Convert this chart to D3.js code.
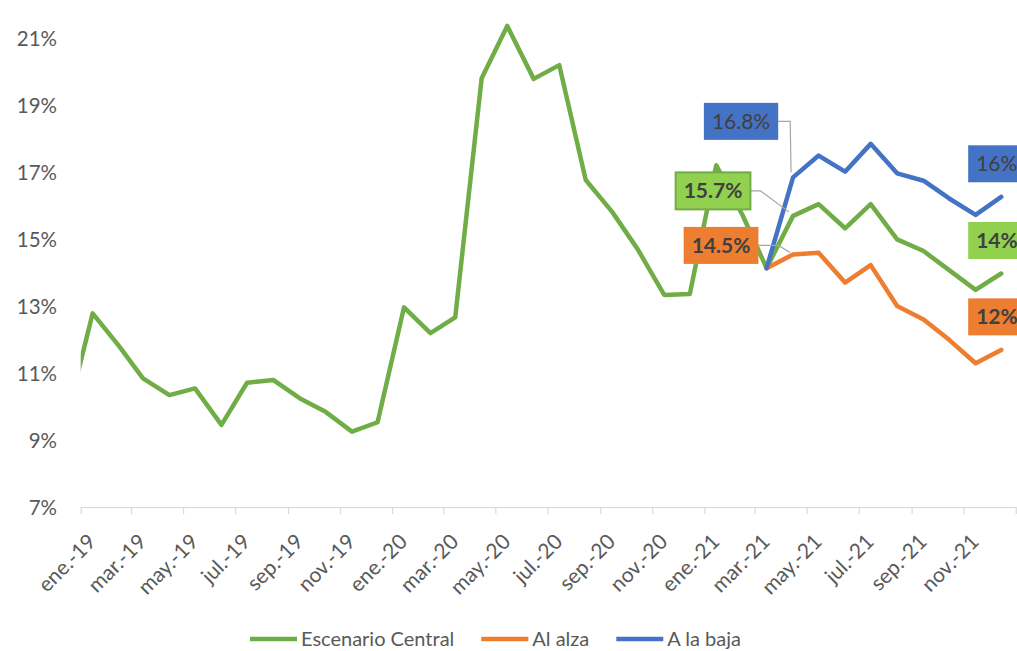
<!DOCTYPE html>
<html><head><meta charset="utf-8">
<script src="https://cdn.jsdelivr.net/npm/d3@7"></script>
<style>
body{margin:0;background:#fff}
svg{display:block}
text{font-family:Lato,"Open Sans",sans-serif}
</style>
</head><body>
<svg id="c" width="1017" height="651"></svg>
<script>
// ---- data ----
const months = ["2018-12",
  "2019-01","2019-02","2019-03","2019-04","2019-05","2019-06","2019-07","2019-08","2019-09","2019-10","2019-11","2019-12",
  "2020-01","2020-02","2020-03","2020-04","2020-05","2020-06","2020-07","2020-08","2020-09","2020-10","2020-11","2020-12",
  "2021-01","2021-02","2021-03","2021-04","2021-05","2021-06","2021-07","2021-08","2021-09","2021-10","2021-11","2021-12"];
const central = [9.6,
  12.78,11.8,10.84,10.34,10.54,9.45,10.71,10.79,10.24,9.84,9.25,9.53,
  12.96,12.19,12.66,19.80,21.36,19.78,20.19,16.76,15.81,14.69,13.33,13.36,
  17.2,15.7,14.13,15.69,16.04,15.32,16.04,14.99,14.64,14.07,13.48,13.97];
const scenMonths = ["2021-03","2021-04","2021-05","2021-06","2021-07","2021-08","2021-09","2021-10","2021-11","2021-12"];
const alza = [14.13,14.54,14.59,13.70,14.22,13.00,12.60,11.99,11.29,11.69];
const baja = [14.13,16.84,17.49,17.01,17.84,16.96,16.74,16.21,15.72,16.26];
const yTicks = [7,9,11,13,15,17,19,21];
const xTickMonths = ["2019-01","2019-03","2019-05","2019-07","2019-09","2019-11",
  "2020-01","2020-03","2020-05","2020-07","2020-09","2020-11",
  "2021-01","2021-03","2021-05","2021-07","2021-09","2021-11","2022-01"];
const xTickLabels = ["ene.-19","mar.-19","may.-19","jul.-19","sep.-19","nov.-19",
  "ene.-20","mar.-20","may.-20","jul.-20","sep.-20","nov.-20",
  "ene.-21","mar.-21","may.-21","jul.-21","sep.-21","nov.-21",""];
const seriesNames = ["Escenario Central","Al alza","A la baja"];
const colors = ["#70AD47","#ED7D31","#4472C4"];

// ---- helpers ----
const parseM = s => { const [y,m]=s.split("-").map(Number); return new Date(y,m-1,1); };
const midM = s => { const [y,m]=s.split("-").map(Number); return new Date(y,m-1,15); };

const svg = d3.select("#c");
const x = d3.scaleTime().domain([new Date(2019,0,1), new Date(2022,0,1)]).range([80.7,1015.7]);
const y = d3.scaleLinear().domain([7,21]).range([507,38]);

const series = [
  {name:seriesNames[0], color:colors[0], pts: months.map((m,i)=>({m, d:midM(m), v:central[i]}))},
  {name:seriesNames[1], color:colors[1], pts: scenMonths.map((m,i)=>({m, d:midM(m), v:alza[i]}))},
  {name:seriesNames[2], color:colors[2], pts: scenMonths.map((m,i)=>({m, d:midM(m), v:baja[i]}))}
];

// y axis labels
const yAxis = d3.axisLeft(y).tickValues(yTicks).tickFormat(d=>d+"%").tickSize(0).tickPadding(0);
const gy = svg.append("g").attr("transform","translate(57,0)").call(yAxis);
gy.select(".domain").remove();
gy.selectAll("text").attr("font-family","Lato").attr("font-size",20.5).attr("fill","#595959").attr("x",0).attr("dy","0.35em");

// x axis
const xAxis = d3.axisBottom(x).tickValues(xTickMonths.map(parseM))
  .tickFormat((d,i)=>xTickLabels[i]).tickSizeInner(7).tickSizeOuter(0);
const gx = svg.append("g").attr("transform","translate(0,507)").call(xAxis);
gx.select(".domain").attr("stroke","#D9D9D9").attr("stroke-width",1.2);
gx.selectAll(".tick line").attr("stroke","#D9D9D9").attr("stroke-width",1.2);
gx.selectAll(".tick text")
  .attr("font-family","Lato").attr("font-size",21).attr("fill","#595959")
  .attr("x",0).attr("y",0).attr("dy",0)
  .attr("text-anchor","end")
  .attr("transform","translate(16,36) rotate(-45)");

// clip
svg.append("clipPath").attr("id","plot").append("rect")
  .attr("x",80.7).attr("y",0).attr("width",940).attr("height",560);

const line = d3.line().x(p=>x(p.d)).y(p=>y(p.v));
const gl = svg.append("g").attr("clip-path","url(#plot)");
series.forEach(s=>{
  gl.append("path").datum(s.pts).attr("d",line)
    .attr("fill","none").attr("stroke",s.color).attr("stroke-width",4.5)
    .attr("stroke-linejoin","round").attr("stroke-linecap","round");
});

// ---- data labels ----
const labelCfg = [
  {s:2, m:"2021-04", fmt:".1f", cx:-52, cy:-56, bold:false, fill:"#4472C4", lead:{h:12, ex:-2, ey:-5}},
  {s:0, m:"2021-04", fmt:".1f", cx:-80, cy:-25, bold:true, fill:"#92D050", stroke:"#70AD47", lead:{h:10, ex:-4, ey:-4}},
  {s:1, m:"2021-04", fmt:".1f", cx:-72, cy:-9, bold:true, fill:"#ED7D31", lead:{h:20, ex:-3, ey:-2}},
  {s:2, m:"2021-12", fmt:".0f", left:-33, cy:-33, bold:false, fill:"#4472C4"},
  {s:0, m:"2021-12", fmt:".0f", left:-33, cy:-33, bold:true, fill:"#92D050"},
  {s:1, m:"2021-12", fmt:".0f", left:-33, cy:-33, bold:true, fill:"#ED7D31"}
];
const gLab = svg.append("g");
labelCfg.forEach(c=>{
  const p = series[c.s].pts.find(q=>q.m===c.m);
  const px = x(p.d), py = y(p.v);
  const txt = d3.format(c.fmt)(p.v)+"%";
  const g = gLab.append("g");
  const t = g.append("text").text(txt).attr("font-size",21)
    .attr("font-weight",c.bold?700:400).attr("fill","#404040").attr("text-anchor","middle");
  const tw = t.node().getComputedTextLength();
  const bw = tw+16, bh = 37;
  const cyy = py + c.cy;
  const cxx = c.left!==undefined ? px + c.left + bw/2 : px + c.cx;
  const r = g.insert("rect","text").attr("x",cxx-bw/2).attr("y",cyy-bh/2).attr("width",bw).attr("height",bh)
    .attr("fill",c.fill);
  if(c.stroke) r.attr("stroke",c.stroke).attr("stroke-width",2);
  t.attr("x",cxx).attr("y",cyy).attr("dy","0.36em");
  if(c.lead){
    const x0 = cxx+bw/2;
    gLab.insert("path",":first-child")
      .attr("d",`M${x0},${cyy}H${x0+c.lead.h}L${px+c.lead.ex},${py+c.lead.ey}`)
      .attr("fill","none").attr("stroke","#A6A6A6").attr("stroke-width",1.2);
  }
});

// ---- legend ----
const lg = svg.append("g");
let lx = 250;
series.forEach(s=>{
  lg.append("line").attr("x1",lx).attr("x2",lx+47).attr("y1",639).attr("y2",639)
    .attr("stroke",s.color).attr("stroke-width",4.5);
  const t = lg.append("text").attr("x",lx+51).attr("y",646).text(s.name)
    .attr("font-size",20).attr("fill","#595959");
  lx += 51 + t.node().getComputedTextLength() + 27;
});
</script>
</body></html>
